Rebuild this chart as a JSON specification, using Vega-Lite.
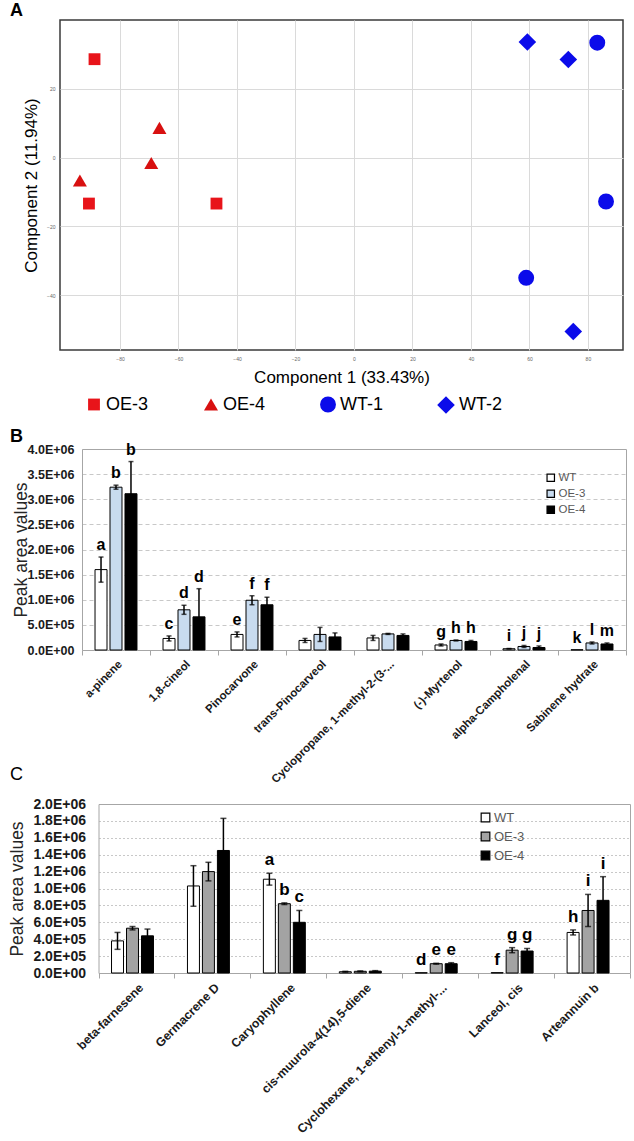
{
  "$schema": "https://vega.github.io/schema/vega-lite/v6.json",
  "background": "white",
  "padding": {"left": 8, "top": 1, "right": 2, "bottom": 2},
  "config": {"view": {"stroke": null}, "font": "Liberation Sans"},
  "datasets": {
    "pca": [
      {"pc1": -88.7, "pc2": 28.6, "group": "OE-3"},
      {"pc1": -90.6, "pc2": -13.4, "group": "OE-3"},
      {"pc1": -47.0, "pc2": -13.4, "group": "OE-3"},
      {"pc1": -66.5, "pc2": 8.6, "group": "OE-4"},
      {"pc1": -69.3, "pc2": -1.6, "group": "OE-4"},
      {"pc1": -93.7, "pc2": -6.7, "group": "OE-4"},
      {"pc1": 83.2, "pc2": 33.4, "group": "WT-1"},
      {"pc1": 86.2, "pc2": -12.8, "group": "WT-1"},
      {"pc1": 58.9, "pc2": -35.0, "group": "WT-1"},
      {"pc1": 59.3, "pc2": 33.6, "group": "WT-2"},
      {"pc1": 73.3, "pc2": 28.5, "group": "WT-2"},
      {"pc1": 75.0, "pc2": -50.6, "group": "WT-2"}
    ],
    "mono": [
      {"compound": "a-pinene", "genotype": "WT", "value": 1600000, "err": 250000, "letter": "a"},
      {"compound": "a-pinene", "genotype": "OE-3", "value": 3240000, "err": 40000, "letter": "b"},
      {"compound": "a-pinene", "genotype": "OE-4", "value": 3110000, "err": 640000, "letter": "b"},
      {"compound": "1,8-cineol", "genotype": "WT", "value": 230000, "err": 50000, "letter": "c"},
      {"compound": "1,8-cineol", "genotype": "OE-3", "value": 800000, "err": 90000, "letter": "d"},
      {"compound": "1,8-cineol", "genotype": "OE-4", "value": 660000, "err": 560000, "letter": "d"},
      {"compound": "Pinocarvone", "genotype": "WT", "value": 310000, "err": 50000, "letter": "e"},
      {"compound": "Pinocarvone", "genotype": "OE-3", "value": 990000, "err": 90000, "letter": "f"},
      {"compound": "Pinocarvone", "genotype": "OE-4", "value": 900000, "err": 150000, "letter": "f"},
      {"compound": "trans-Pinocarveol", "genotype": "WT", "value": 190000, "err": 40000, "letter": ""},
      {"compound": "trans-Pinocarveol", "genotype": "OE-3", "value": 310000, "err": 140000, "letter": ""},
      {"compound": "trans-Pinocarveol", "genotype": "OE-4", "value": 260000, "err": 80000, "letter": ""},
      {"compound": "Cyclopropane, 1-methyl-2-(3-...", "genotype": "WT", "value": 240000, "err": 50000, "letter": ""},
      {"compound": "Cyclopropane, 1-methyl-2-(3-...", "genotype": "OE-3", "value": 320000, "err": 10000, "letter": ""},
      {"compound": "Cyclopropane, 1-methyl-2-(3-...", "genotype": "OE-4", "value": 290000, "err": 30000, "letter": ""},
      {"compound": "(-)-Myrtenol", "genotype": "WT", "value": 100000, "err": 20000, "letter": "g"},
      {"compound": "(-)-Myrtenol", "genotype": "OE-3", "value": 190000, "err": 10000, "letter": "h"},
      {"compound": "(-)-Myrtenol", "genotype": "OE-4", "value": 170000, "err": 20000, "letter": "h"},
      {"compound": "alpha-Campholenal", "genotype": "WT", "value": 25000, "err": 5000, "letter": "i"},
      {"compound": "alpha-Campholenal", "genotype": "OE-3", "value": 70000, "err": 20000, "letter": "j"},
      {"compound": "alpha-Campholenal", "genotype": "OE-4", "value": 50000, "err": 30000, "letter": "j"},
      {"compound": "Sabinene hydrate", "genotype": "WT", "value": 5000, "err": 0, "letter": "k"},
      {"compound": "Sabinene hydrate", "genotype": "OE-3", "value": 140000, "err": 20000, "letter": "l"},
      {"compound": "Sabinene hydrate", "genotype": "OE-4", "value": 120000, "err": 20000, "letter": "m"}
    ],
    "sesq": [
      {"compound": "beta-farnesene", "genotype": "WT", "value": 380000, "err": 100000, "letter": ""},
      {"compound": "beta-farnesene", "genotype": "OE-3", "value": 530000, "err": 20000, "letter": ""},
      {"compound": "beta-farnesene", "genotype": "OE-4", "value": 440000, "err": 80000, "letter": ""},
      {"compound": "Germacrene D", "genotype": "WT", "value": 1030000, "err": 240000, "letter": ""},
      {"compound": "Germacrene D", "genotype": "OE-3", "value": 1200000, "err": 110000, "letter": ""},
      {"compound": "Germacrene D", "genotype": "OE-4", "value": 1450000, "err": 380000, "letter": ""},
      {"compound": "Caryophyllene", "genotype": "WT", "value": 1110000, "err": 70000, "letter": "a"},
      {"compound": "Caryophyllene", "genotype": "OE-3", "value": 820000, "err": 10000, "letter": "b"},
      {"compound": "Caryophyllene", "genotype": "OE-4", "value": 600000, "err": 140000, "letter": "c"},
      {"compound": "cis-muurola-4(14),5-diene", "genotype": "WT", "value": 15000, "err": 5000, "letter": ""},
      {"compound": "cis-muurola-4(14),5-diene", "genotype": "OE-3", "value": 20000, "err": 5000, "letter": ""},
      {"compound": "cis-muurola-4(14),5-diene", "genotype": "OE-4", "value": 22000, "err": 6000, "letter": ""},
      {"compound": "Cyclohexane, 1-ethenyl-1-methyl-...", "genotype": "WT", "value": 3000, "err": 0, "letter": "d"},
      {"compound": "Cyclohexane, 1-ethenyl-1-methyl-...", "genotype": "OE-3", "value": 110000, "err": 5000, "letter": "e"},
      {"compound": "Cyclohexane, 1-ethenyl-1-methyl-...", "genotype": "OE-4", "value": 110000, "err": 12000, "letter": "e"},
      {"compound": "Lanceol, cis", "genotype": "WT", "value": 4000, "err": 0, "letter": "f"},
      {"compound": "Lanceol, cis", "genotype": "OE-3", "value": 270000, "err": 30000, "letter": "g"},
      {"compound": "Lanceol, cis", "genotype": "OE-4", "value": 260000, "err": 30000, "letter": "g"},
      {"compound": "Arteannuin b", "genotype": "WT", "value": 480000, "err": 30000, "letter": "h"},
      {"compound": "Arteannuin b", "genotype": "OE-3", "value": 740000, "err": 190000, "letter": "i"},
      {"compound": "Arteannuin b", "genotype": "OE-4", "value": 860000, "err": 280000, "letter": "i"}
    ]
  },
  "bounds": "flush",
  "spacing": 0,
  "resolve": {
    "scale": {"color": "independent", "shape": "independent", "fill": "independent", "size": "independent"},
    "legend": {"color": "independent", "shape": "independent", "fill": "independent", "size": "independent"}
  },
  "vconcat": [
    {
      "title": {"text": "A", "anchor": "start", "frame": "group", "dx": -50, "offset": 0, "fontSize": 18, "fontWeight": "bold", "font": "Liberation Sans", "color": "black"},
      "width": 563,
      "height": 330,
      "view": {"stroke": "#3a3a3a", "strokeWidth": 1.5},
      "data": {"name": "pca"},
      "mark": {"type": "point", "filled": true, "opacity": 1},
      "encoding": {
        "x": {
          "field": "pc1", "type": "quantitative",
          "scale": {"domain": [-100.5, 92], "nice": false, "zero": false},
          "axis": {"values": [-80, -60, -40, -20, 0, 20, 40, 60, 80], "title": "Component 1 (33.43%)", "titleFontSize": 17, "titleFontWeight": "normal", "titleColor": "black", "titleFont": "Liberation Sans", "labelFontSize": 5, "labelColor": "#666666", "ticks": false, "domain": false, "grid": true, "gridColor": "#dadada", "labelPadding": 6, "titlePadding": 8}
        },
        "y": {
          "field": "pc2", "type": "quantitative",
          "scale": {"domain": [-56, 40], "nice": false, "zero": false},
          "axis": {"values": [-40, -20, 0, 20], "title": "Component 2 (11.94%)", "titleFontSize": 17, "titleFontWeight": "normal", "titleColor": "black", "titleFont": "Liberation Sans", "labelFontSize": 5, "labelColor": "#666666", "ticks": false, "domain": false, "grid": true, "gridColor": "#dadada", "labelPadding": 5, "titlePadding": 6}
        },
        "size": {
          "field": "group", "type": "nominal",
          "scale": {"domain": ["OE-3", "OE-4", "WT-1", "WT-2"], "range": [140, 310, 300, 300]},
          "legend": null
        },
        "shape": {
          "field": "group", "type": "nominal",
          "scale": {"domain": ["OE-3", "OE-4", "WT-1", "WT-2"], "range": ["square", "triangle-up", "circle", "diamond"]},
          "legend": {"orient": "none", "legendX": 25, "legendY": 375, "direction": "horizontal", "title": null, "labelFontSize": 18, "labelFont": "Liberation Sans", "labelColor": "black", "symbolSize": 170, "columnPadding": 53, "labelOffset": 3, "padding": 0}
        },
        "color": {
          "field": "group", "type": "nominal",
          "scale": {"domain": ["OE-3", "OE-4", "WT-1", "WT-2"], "range": ["#e8141a", "#d81010", "#0b0bea", "#0b0bea"]},
          "legend": {"orient": "none", "legendX": 25, "legendY": 375, "direction": "horizontal", "title": null, "labelFontSize": 18, "labelFont": "Liberation Sans", "labelColor": "black", "symbolSize": 170, "columnPadding": 53, "labelOffset": 3, "padding": 0}
        }
      }
    },
    {
      "title": {"text": "B", "anchor": "start", "frame": "group", "dx": -50, "dy": 96, "offset": 0, "fontSize": 18, "fontWeight": "bold", "font": "Liberation Sans", "color": "black"},
      "width": 566,
      "height": 300,
      "data": {"name": "mono"},
      "transform": [
        {"calculate": "datum.value - datum.err", "as": "lo"},
        {"calculate": "datum.value + datum.err", "as": "hi"}
      ],
      "resolve": {"axis": {"x": "independent", "y": "independent"}},
      "encoding": {
        "x": {"field": "compound", "type": "nominal", "sort": null, "scale": {"range": [22, 566], "paddingInner": 0, "paddingOuter": 0}, "axis": null},
        "xOffset": {"field": "genotype", "type": "nominal", "sort": ["WT", "OE-3", "OE-4"], "scale": {"paddingInner": 0.2, "paddingOuter": 0.87}}
      },
      "layer": [
        {
          "mark": {"type": "bar", "stroke": "black", "strokeWidth": 1},
          "encoding": {
            "x": {
              "field": "compound", "type": "nominal", "sort": null,
              "axis": {"title": null, "labelAngle": -45, "labelFont": "Liberation Sans", "labelFontWeight": "bold", "labelFontSize": 11.5, "labelColor": "#1a1a1a", "labelLimit": 300, "ticks": true, "tickBand": "extent", "tickColor": "#a6a6a6", "tickSize": 5, "domainColor": "#a6a6a6", "labelPadding": 3, "grid": false}
            },
            "y": {
              "field": "value", "type": "quantitative",
              "scale": {"domain": [0, 4000000], "range": [300, 99], "nice": false},
              "axis": {"offset": -22, "values": [0, 500000, 1000000, 1500000, 2000000, 2500000, 3000000, 3500000, 4000000], "labelExpr": "upper(replace(format(datum.value, '.1e'), '+', '+0'))", "labelFont": "Liberation Sans", "labelFontWeight": "bold", "labelFontSize": 12.5, "labelColor": "#1a1a1a", "ticks": false, "domainColor": "#a6a6a6", "grid": true, "gridColor": "#c8c8c8", "gridDash": [4, 3], "title": "Peak area values", "titleFont": "Liberation Sans", "titleFontSize": 17.5, "titleFontWeight": "normal", "titleColor": "#262626", "labelPadding": 8, "titlePadding": -3}
            },
            "fill": {
              "field": "genotype", "type": "nominal",
              "scale": {"domain": ["WT", "OE-3", "OE-4"], "range": ["#ffffff", "#c8dbef", "#000000"]},
              "legend": {"orient": "none", "legendX": 485, "legendY": 122, "title": null, "symbolType": "square", "symbolSize": 55, "symbolStrokeColor": "black", "symbolStrokeWidth": 1.2, "labelFont": "Liberation Sans", "labelFontSize": 11.5, "labelColor": "#595959", "rowPadding": 3, "labelOffset": 2, "padding": 0}
            }
          }
        },
        {
          "transform": [{"filter": "datum.err > 0"}],
          "mark": {"type": "rule", "color": "black", "strokeWidth": 1.5},
          "encoding": {
            "x": {
              "field": "compound", "type": "nominal", "sort": null,
              "axis": {"orient": "top", "offset": -99, "labels": false, "ticks": false, "domain": true, "domainColor": "#a6a6a6", "title": null, "grid": false}
            },
            "y": {
              "field": "lo", "type": "quantitative",
              "axis": {"orient": "right", "labels": false, "ticks": false, "domain": true, "domainColor": "#a6a6a6", "title": null, "grid": false}
            },
            "y2": {"field": "hi"}
          }
        },
        {
          "transform": [{"filter": "datum.err > 0"}],
          "mark": {"type": "tick", "color": "black", "size": 5, "thickness": 1.5},
          "encoding": {"y": {"field": "hi", "type": "quantitative", "axis": null}}
        },
        {
          "transform": [{"filter": "datum.err > 0"}],
          "mark": {"type": "tick", "color": "black", "size": 5, "thickness": 1.5},
          "encoding": {"y": {"field": "lo", "type": "quantitative", "axis": null}}
        },
        {
          "transform": [{"filter": "datum.letter != ''"}],
          "mark": {"type": "text", "baseline": "bottom", "dy": -4, "fontSize": 16, "fontWeight": "bold", "font": "Liberation Sans", "color": "black"},
          "encoding": {"y": {"field": "hi", "type": "quantitative", "axis": null}, "text": {"field": "letter"}}
        }
      ]
    },
    {
      "title": {"text": "C", "anchor": "start", "frame": "group", "dx": -50, "dy": 147, "offset": 13, "fontSize": 18, "fontWeight": "normal", "font": "Liberation Sans", "color": "black"},
      "width": 570,
      "height": 323,
      "data": {"name": "sesq"},
      "transform": [
        {"calculate": "datum.value - datum.err", "as": "lo"},
        {"calculate": "datum.value + datum.err", "as": "hi"}
      ],
      "resolve": {"axis": {"x": "independent", "y": "independent"}},
      "encoding": {
        "x": {"field": "compound", "type": "nominal", "sort": null, "scale": {"range": [38.5, 570], "paddingInner": 0, "paddingOuter": 0}, "axis": null},
        "xOffset": {"field": "genotype", "type": "nominal", "sort": ["WT", "OE-3", "OE-4"], "scale": {"paddingInner": 0.12, "paddingOuter": 0.86}}
      },
      "layer": [
        {
          "mark": {"type": "bar", "stroke": "black", "strokeWidth": 1},
          "encoding": {
            "x": {
              "field": "compound", "type": "nominal", "sort": null,
              "axis": {"title": null, "labelAngle": -45, "labelFont": "Liberation Sans", "labelFontWeight": "bold", "labelFontSize": 12.3, "labelColor": "#1a1a1a", "labelLimit": 300, "ticks": true, "tickBand": "extent", "tickColor": "#a6a6a6", "tickSize": 5, "domainColor": "#a6a6a6", "labelPadding": 3, "grid": false}
            },
            "y": {
              "field": "value", "type": "quantitative",
              "scale": {"domain": [0, 2000000], "range": [323, 154], "nice": false},
              "axis": {"offset": -38.5, "values": [0, 200000, 400000, 600000, 800000, 1000000, 1200000, 1400000, 1600000, 1800000, 2000000], "labelExpr": "upper(replace(format(datum.value, '.1e'), '+', '+0'))", "labelFont": "Liberation Sans", "labelFontWeight": "bold", "labelFontSize": 14, "labelColor": "#1a1a1a", "ticks": false, "domainColor": "#a6a6a6", "grid": true, "gridColor": "#c8c8c8", "gridDash": [2, 2], "title": "Peak area values", "titleFont": "Liberation Sans", "titleFontSize": 17.5, "titleFontWeight": "normal", "titleColor": "#262626", "labelPadding": 13, "titlePadding": 6}
            },
            "fill": {
              "field": "genotype", "type": "nominal",
              "scale": {"domain": ["WT", "OE-3", "OE-4"], "range": ["#ffffff", "#a3a3a3", "#000000"]},
              "legend": {"orient": "none", "legendX": 419, "legendY": 161, "title": null, "symbolType": "square", "symbolSize": 75, "symbolStrokeColor": "black", "symbolStrokeWidth": 1.2, "labelFont": "Liberation Sans", "labelFontSize": 13, "labelColor": "#595959", "rowPadding": 4, "labelOffset": 2, "padding": 0}
            }
          }
        },
        {
          "transform": [{"filter": "datum.err > 0"}],
          "mark": {"type": "rule", "color": "black", "strokeWidth": 1.5},
          "encoding": {
            "x": {
              "field": "compound", "type": "nominal", "sort": null,
              "axis": {"orient": "top", "offset": -154, "labels": false, "ticks": false, "domain": true, "domainColor": "#a6a6a6", "title": null, "grid": false}
            },
            "y": {
              "field": "lo", "type": "quantitative",
              "axis": {"orient": "right", "labels": false, "ticks": false, "domain": true, "domainColor": "#a6a6a6", "title": null, "grid": false}
            },
            "y2": {"field": "hi"}
          }
        },
        {
          "transform": [{"filter": "datum.err > 0"}],
          "mark": {"type": "tick", "color": "black", "size": 6, "thickness": 1.5},
          "encoding": {"y": {"field": "hi", "type": "quantitative", "axis": null}}
        },
        {
          "transform": [{"filter": "datum.err > 0"}],
          "mark": {"type": "tick", "color": "black", "size": 6, "thickness": 1.5},
          "encoding": {"y": {"field": "lo", "type": "quantitative", "axis": null}}
        },
        {
          "transform": [{"filter": "datum.letter != ''"}],
          "mark": {"type": "text", "baseline": "bottom", "dy": -4, "fontSize": 17, "fontWeight": "bold", "font": "Liberation Sans", "color": "black"},
          "encoding": {"y": {"field": "hi", "type": "quantitative", "axis": null}, "text": {"field": "letter"}}
        }
      ]
    }
  ]
}
